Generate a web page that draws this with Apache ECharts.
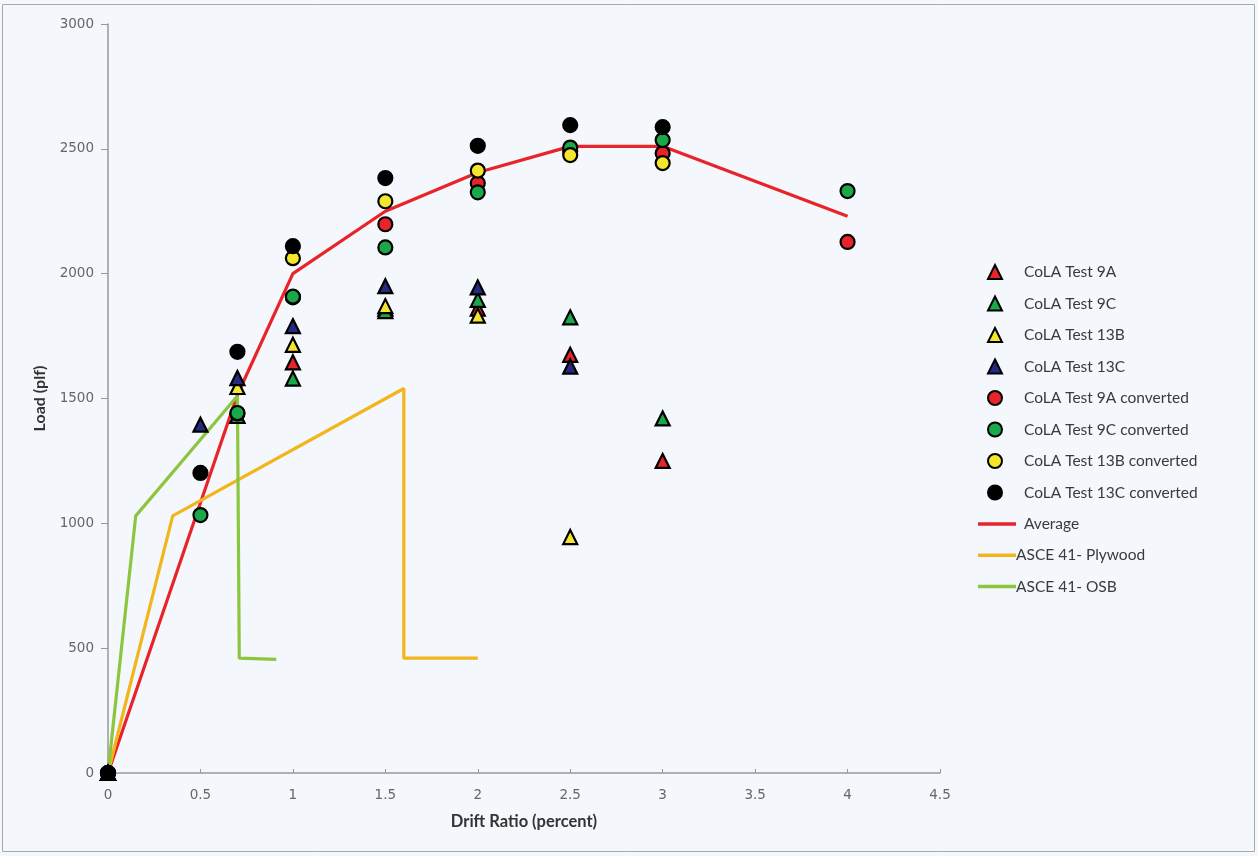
<!DOCTYPE html>
<html><head><meta charset="utf-8">
<script src="https://cdn.jsdelivr.net/npm/echarts@6/dist/echarts.min.js"></script>
<style>html,body{margin:0;padding:0;background:#f4f7fb}#c{width:1258px;height:856px}</style>
</head><body><div id="c"></div>
<script>
// Drift positions for the test series
const drifts = [0, 0.5, 0.7, 1, 1.5, 2, 2.5, 3, 4];
// Triangle series (raw tests)
const test9A  = [0, null, 1430, 1645, 1860, 1860, 1675, 1250, null];
const test9C  = [0, null, 1430, 1580, 1850, 1895, 1825, 1420, null];
const test13B = [0, null, 1546, 1715, 1870, 1832, 945, null, null];
const test13C = [0, 1395, 1582, 1790, 1950, 1945, 1628, null, null];
// Circle series (converted)
const conv9A  = [0, null, 1440, 1905, 2198, 2362, 2490, 2482, 2127];
const conv9C  = [0, 1033, 1442, 1908, 2105, 2326, 2505, 2535, 2331];
const conv13B = [0, null, null, 2062, 2290, 2413, 2475, 2443, null];
const conv13C = [0, 1202, 1687, 2110, 2383, 2512, 2595, 2587, null];
// Lines
const avgX = [0, 0.7, 1, 1.5, 2, 2.5, 3, 4];
const avgY = [0, 1515, 2000, 2250, 2405, 2510, 2510, 2230];
const plyX = [0, 0.35, 1.6, 1.6, 2.0];
const plyY = [0, 1030, 1540, 460, 460];
const osbX = [0, 0.15, 0.7, 0.71, 0.91];
const osbY = [0, 1030, 1510, 460, 455];
// Axis ticks
const xTicks = [0, 0.5, 1, 1.5, 2, 2.5, 3, 3.5, 4, 4.5];
const yTicks = [0, 500, 1000, 1500, 2000, 2500, 3000];

const pairs = (xs, ys) => xs.map((x, i) => ys[i] == null ? null : [x, ys[i]]).filter(p => p);

function scatter(name, ys, symbol, color) {
  return {
    name, type: 'scatter', data: pairs(drifts, ys), symbol,
    symbolSize: 14, z: 5,
    itemStyle: { color, borderColor: '#000', borderWidth: 2.2, opacity: 1 }
  };
}
function line(name, xs, ys, color) {
  return {
    name, type: 'line', data: pairs(xs, ys), showSymbol: false, symbol: 'none', z: 2,
    lineStyle: { color, width: 3.2 }, itemStyle: { color }
  };
}

const scatterNames = ['CoLA Test 9A', 'CoLA Test 9C', 'CoLA Test 13B', 'CoLA Test 13C',
  'CoLA Test 9A converted', 'CoLA Test 9C converted', 'CoLA Test 13B converted', 'CoLA Test 13C converted'];

const chart = echarts.init(document.getElementById('c'));
const legendText = { fontSize: 15.5, color: '#3a3a3a', fontFamily: 'Lato', lineHeight: 14 };
chart.setOption({
  backgroundColor: '#f4f7fb',
  animation: false,
  textStyle: { fontFamily: 'Lato' },
  graphic: [{ type: 'rect', shape: { x: 2.5, y: 4.5, width: 1252, height: 847 }, style: { fill: 'none', stroke: '#a8a8a8', lineWidth: 1 }, silent: true }],
  grid: { left: 108, right: 318, top: 24, bottom: 83 },
  legend: [{
    orient: 'vertical', left: 982, top: 259, itemGap: 15.5, itemWidth: 14, itemHeight: 14,
    data: scatterNames,
    textStyle: Object.assign({ padding: [0, 0, 0, 17] }, legendText)
  }, {
    orient: 'vertical', left: 973, top: 511, itemGap: 15.3, itemWidth: 38, itemHeight: 3.5,
    data: [{ name: 'Average', icon: 'rect', textStyle: { padding: [0, 0, 0, 3] } },
           { name: 'ASCE 41- Plywood', icon: 'rect', textStyle: { padding: [0, 0, 0, -5] } },
           { name: 'ASCE 41- OSB', icon: 'rect', textStyle: { padding: [0, 0, 0, -5] } }],
    textStyle: legendText
  }],
  xAxis: {
    type: 'value', min: 0, max: 4.5, interval: 0.5,
    name: 'Drift Ratio (percent)', nameLocation: 'middle', nameGap: 40,
    nameTextStyle: { fontWeight: 'bold', fontSize: 16.5, color: '#333', fontFamily: 'Lato' },
    axisLine: { lineStyle: { color: '#999', width: 1.5 } },
    axisTick: { show: true, inside: true, length: 4, lineStyle: { color: '#999' } },
    axisLabel: { color: '#666', fontSize: 13.5, fontFamily: 'DejaVu Sans', margin: 15, formatter: v => xTicks.includes(v) ? String(v) : '' },
    splitLine: { show: false }
  },
  yAxis: {
    type: 'value', min: 0, max: 3000, interval: 500,
    name: 'Load (plf)', nameLocation: 'middle', nameGap: 60,
    nameTextStyle: { fontWeight: 'bold', fontSize: 16, color: '#333', fontFamily: 'Lato' },
    axisLine: { show: true, lineStyle: { color: '#999', width: 1.5 } },
    axisTick: { show: true, length: 7, lineStyle: { color: '#999' } },
    axisLabel: { color: '#666', fontSize: 13.5, fontFamily: 'DejaVu Sans', margin: 14, formatter: v => yTicks.includes(v) ? String(v) : '' },
    splitLine: { show: false }
  },
  series: [
    line('Average', avgX, avgY, '#e8232a'),
    line('ASCE 41- Plywood', plyX, plyY, '#f2b51c'),
    line('ASCE 41- OSB', osbX, osbY, '#8cc63f'),
    scatter('CoLA Test 9A', test9A, 'triangle', '#e8232a'),
    scatter('CoLA Test 9C', test9C, 'triangle', '#1aa84b'),
    scatter('CoLA Test 13B', test13B, 'triangle', '#f3e62c'),
    scatter('CoLA Test 13C', test13C, 'triangle', '#232a80'),
    scatter('CoLA Test 9A converted', conv9A, 'circle', '#e8232a'),
    scatter('CoLA Test 9C converted', conv9C, 'circle', '#1aa84b'),
    scatter('CoLA Test 13B converted', conv13B, 'circle', '#f3e62c'),
    scatter('CoLA Test 13C converted', conv13C, 'circle', '#000000')
  ]
});
</script></body></html>
